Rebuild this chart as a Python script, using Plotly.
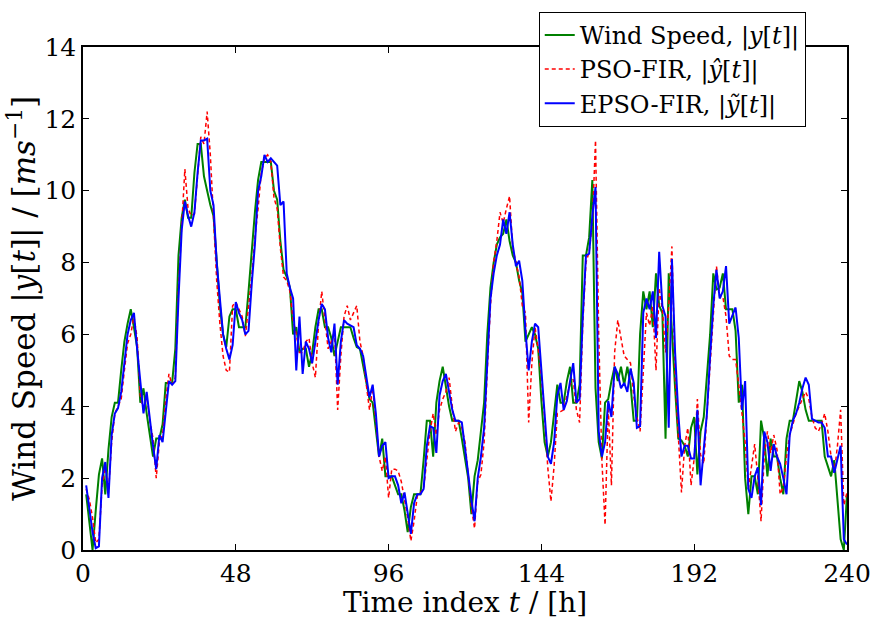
import plotly.graph_objects as go

hours = list(range(1, 241))

wind_speed = [
    1.55, 0.8, 0.0, 1.1, 2.1, 2.55, 1.55, 2.8, 3.7, 4.1,
    4.1, 5.0, 5.8, 6.3, 6.7, 6.2, 5.65, 4.1, 4.5, 3.8,
    3.2, 2.6, 3.1, 3.1, 3.5, 4.65, 4.65, 4.65, 5.6, 8.2,
    9.25, 9.75, 9.25, 9.25, 10.5, 11.3, 11.3, 10.4, 10.0, 9.6,
    9.3, 7.9, 6.8, 6.0, 5.65, 6.5, 6.7, 6.7, 6.2, 6.2,
    6.2, 7.2, 8.4, 9.4, 10.3, 10.8, 10.8, 10.8, 10.8, 10.0,
    9.75, 8.6, 7.8, 7.6, 7.3, 6.0, 6.2, 5.5, 5.6, 5.6,
    5.1, 5.5, 6.2, 6.7, 6.7, 6.2, 6.2, 5.9, 5.4, 5.8,
    6.2, 6.2, 6.2, 6.2, 5.9, 5.65, 5.6, 5.1, 4.6, 4.2,
    4.1, 3.3, 2.6, 3.1, 2.05, 2.05, 2.05, 1.8, 1.55, 1.55,
    1.1, 0.5, 1.2, 1.55, 1.55, 1.55, 2.5, 3.6, 3.6, 2.6,
    4.1, 4.7, 5.1, 4.5, 4.0, 3.6, 3.6, 3.6, 3.1, 2.5,
    2.0, 1.0, 2.05, 2.5, 3.3, 4.1, 6.0, 7.3, 8.0, 8.5,
    8.7, 8.8, 9.2, 8.6, 8.2, 8.0, 7.5, 7.15, 5.8, 6.0,
    6.2, 6.0, 5.6, 4.15, 3.0, 2.6, 3.0, 3.8, 4.6, 4.1,
    4.1, 4.7, 5.1, 4.1, 4.1, 4.6, 8.2, 8.2, 8.7, 10.3,
    4.5, 3.0, 2.55, 4.1, 4.2, 4.7, 5.1, 4.7, 5.1, 4.6,
    5.1, 4.6, 3.6, 3.6, 6.0, 7.2, 6.7, 7.2, 6.2, 7.7,
    6.8, 6.6, 3.1, 7.7, 6.0, 4.5, 3.1, 3.05, 2.9, 2.6,
    3.4, 3.7, 2.1, 3.3, 3.7, 4.9, 6.0, 7.7, 7.25, 7.3,
    7.7, 6.7, 6.7, 6.7, 6.1, 4.1, 4.6, 2.0, 1.0, 2.05,
    2.05, 1.55, 3.6, 3.1, 2.05, 3.1, 2.6, 2.6, 2.0, 1.55,
    3.1, 3.6, 3.6, 4.1, 4.7, 4.4, 3.9, 3.6, 3.6, 3.6,
    3.6, 3.6, 2.6, 2.3, 2.05, 2.5, 1.5, 0.3, 0.0, 1.55,
]

pso_fir = [
    1.7, 1.4, 0.9, 0.2, 0.3, 1.8, 2.3, 1.6, 3.0, 3.8,
    4.0, 4.2, 5.0, 5.75, 6.0, 6.5, 5.9, 4.3, 3.9, 4.3,
    3.6, 3.1, 2.0, 3.0, 3.2, 4.2, 4.9, 4.6, 4.8, 7.3,
    9.0, 10.6, 9.5, 9.3, 9.35, 10.4, 11.5, 11.3, 12.2, 11.0,
    9.3, 7.5, 6.3, 5.4, 5.0, 4.95, 6.8, 6.9, 6.7, 6.5,
    5.95, 6.7, 7.6, 8.7, 9.5, 10.5, 10.9, 11.0, 10.8, 9.8,
    9.5, 8.4, 7.6, 7.5, 7.2, 6.4, 6.0, 5.5, 5.5, 5.8,
    5.9, 5.2, 4.8, 6.3, 7.2, 6.4, 5.6, 5.8, 6.1, 3.9,
    5.4, 6.5, 6.8, 6.4, 6.6, 6.8, 5.8, 5.4, 4.6, 3.9,
    4.5, 3.6, 2.6, 2.2, 2.6, 1.45, 2.25, 2.25, 2.2, 1.9,
    1.45, 0.9, 0.25, 0.8, 1.5, 1.6, 1.7, 2.5, 3.3, 3.8,
    3.2, 3.9, 4.2, 4.4, 4.8, 4.0, 3.3, 3.55, 3.4, 3.0,
    2.0, 1.2, 0.6, 1.9, 2.1, 3.0, 5.0, 6.8, 8.0, 8.6,
    9.4, 9.1, 9.5, 9.85, 8.4, 8.0, 7.6, 6.8, 6.6, 3.55,
    5.2, 6.2, 5.6, 4.8, 3.7, 2.3, 1.35, 2.35, 3.8, 3.85,
    3.9, 4.3, 4.6, 4.75, 3.9, 3.55, 6.3, 8.0, 8.3, 9.1,
    11.4, 6.0, 2.5, 0.7, 4.0, 1.8, 5.5, 6.4, 5.9, 5.4,
    5.3, 5.2, 4.3, 3.7, 3.3, 4.8, 6.6, 6.25, 6.8, 5.0,
    7.3, 6.7, 5.5, 6.8, 8.45, 4.8, 3.2, 1.6, 2.9, 3.4,
    1.8, 2.55, 4.2, 2.65, 2.4, 3.8, 5.2, 6.5, 7.9, 7.05,
    7.05, 6.5, 5.4, 5.3, 5.3, 4.6, 3.8, 3.0, 1.7, 2.3,
    2.95, 2.0, 0.8, 2.6, 3.3, 2.7, 3.2, 2.8, 1.55, 1.75,
    2.6, 3.2, 3.5, 3.8, 4.0, 4.2, 4.4, 4.2, 3.7, 3.4,
    3.3, 3.5, 3.8, 3.3, 2.6, 2.15, 2.9, 3.9, 1.25, 1.6,
]

epso_fir = [
    1.8, 1.2, 0.5, 0.05, 0.1, 2.0, 2.45, 1.45, 3.2, 3.8,
    3.95, 4.4, 5.3, 6.0, 6.4, 6.6, 5.6, 4.6, 3.8, 4.4,
    3.6, 2.9, 2.25, 3.2, 3.0, 3.9, 4.7, 4.6, 4.7, 7.0,
    8.9, 9.7, 9.3, 9.0, 9.4, 10.5, 11.4, 11.4, 11.45, 10.0,
    9.6, 8.0, 7.0, 6.0, 5.6, 5.3, 5.7, 6.9, 6.6, 6.4,
    6.0, 6.1, 7.4, 8.5, 10.0, 10.4, 11.0, 10.8, 10.9, 10.8,
    10.7, 9.6, 9.7, 7.7, 7.3, 7.0, 5.0, 6.5, 4.9, 5.8,
    5.6, 5.2, 5.8, 6.4, 6.85, 6.7, 5.9, 5.5, 6.3, 4.6,
    5.8, 6.4, 6.3, 6.25, 6.2, 5.7, 5.6, 5.4, 4.8, 4.25,
    4.6, 3.8, 2.6, 2.9, 3.0, 2.0, 2.05, 2.05, 1.8, 1.3,
    1.6, 1.0, 0.45, 1.3, 1.55, 1.55, 1.7, 2.9, 3.45, 3.4,
    2.7, 4.3, 4.7, 4.9, 4.4, 3.9, 3.6, 3.6, 3.55, 2.8,
    2.1, 1.4, 0.8, 2.0, 2.6, 3.4, 5.2, 7.0, 7.7, 8.2,
    8.5, 9.2, 8.8, 9.4, 8.5, 7.9, 8.05, 7.5, 6.1, 5.0,
    5.8, 6.3, 6.2, 5.0, 3.6, 2.6, 2.4, 3.0, 4.3, 4.65,
    3.9, 4.15, 4.7, 5.2, 4.1, 4.2, 6.5, 8.2, 8.25, 9.3,
    10.1, 3.3, 2.6, 3.0, 4.15, 3.7, 5.1, 4.9, 4.5, 4.65,
    4.4, 5.05, 4.65, 3.4, 3.45, 6.6, 7.0, 6.7, 7.2, 5.9,
    8.3, 6.8, 6.5, 3.4, 8.1, 5.5, 3.8, 2.6, 2.9, 2.9,
    2.55, 2.55, 3.9, 1.8, 2.8, 3.8, 5.4, 6.8, 7.8, 7.0,
    7.2, 7.9, 6.3, 6.5, 6.75, 5.9, 3.9, 4.7, 1.7, 1.45,
    2.05, 2.3, 1.25, 3.3, 3.0, 2.2, 2.95, 2.6, 2.4, 2.0,
    1.55, 3.2, 3.6, 3.8, 4.1, 4.5, 4.8, 4.6, 3.65, 3.6,
    3.55, 3.55, 3.4, 2.6, 2.6, 2.15, 2.5, 2.9, 0.3, 0.15,
]

x_ticks = [0, 48, 96, 144, 192, 240]
y_ticks = [0, 2, 4, 6, 8, 10, 12, 14]

FONT = "DejaVu Serif"

fig = go.Figure()
fig.add_trace(go.Scatter(
    x=hours, y=wind_speed, mode="lines",
    name="Wind Speed, |<i>y</i>[<i>t</i>]|",
    line=dict(color="#008000", width=2),
))
fig.add_trace(go.Scatter(
    x=hours, y=pso_fir, mode="lines",
    name="PSO-FIR, |<i>ŷ</i>[<i>t</i>]|",
    line=dict(color="#ff0000", width=1.5, dash="4px,3px"),
))
fig.add_trace(go.Scatter(
    x=hours, y=epso_fir, mode="lines",
    name="EPSO-FIR, |<i>ỹ</i>[<i>t</i>]|",
    line=dict(color="#0000ff", width=2),
))

axis_common = dict(
    showline=True, linecolor="black", linewidth=1.5, mirror="ticks",
    ticks="inside", ticklen=6, tickwidth=1, tickcolor="black",
    showgrid=False, zeroline=False,
    tickfont=dict(family=FONT, size=25, color="black"),
)

fig.update_layout(
    width=883, height=619,
    margin=dict(l=83, r=26, t=46, b=67),
    paper_bgcolor="white", plot_bgcolor="white",
    font=dict(family=FONT, color="black"),
    xaxis=dict(
        range=[0, 240], tickvals=x_ticks, ticktext=[str(v) for v in x_ticks],
        title=dict(text="Time index <i>t</i> / [h]", font=dict(family=FONT, size=28), standoff=0),
        **axis_common,
    ),
    yaxis=dict(
        range=[0, 14], tickvals=y_ticks, ticktext=[str(v) for v in y_ticks],
        title=dict(text="Wind Speed |<i>y</i>[<i>t</i>]| / [<i>ms</i><sup>−1</sup>]",
                   font=dict(family=FONT, size=31), standoff=0),
        **axis_common,
    ),
    legend=dict(
        x=0.946, y=1.07, xanchor="right", yanchor="top",
        bgcolor="white", bordercolor="black", borderwidth=1,
        font=dict(family=FONT, size=24, color="black"),
        tracegroupgap=0, itemwidth=30,
    ),
    showlegend=True,
)

fig.write_html("out.html")
